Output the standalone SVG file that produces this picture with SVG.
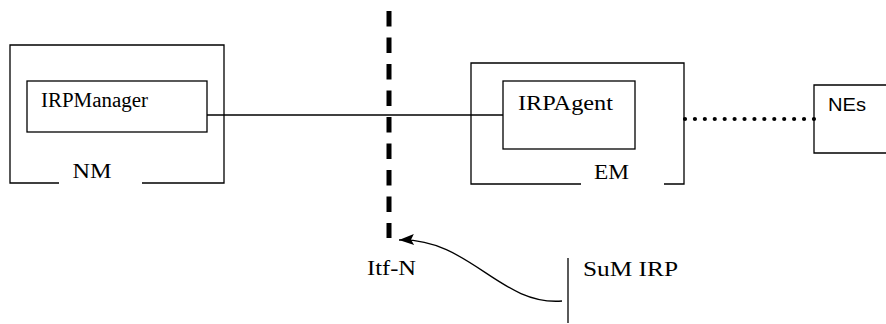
<svg xmlns="http://www.w3.org/2000/svg" width="886" height="324" viewBox="0 0 886 324">
<defs>
<style>
.ln{fill:none;stroke:#000;stroke-width:1.3}
.box{fill:#fff;stroke:#000;stroke-width:1.3}
.t{font-family:"Liberation Serif","Times New Roman",serif;font-size:20px;fill:#000}
.s{font-family:"Liberation Sans",Arial,sans-serif;font-size:19px;fill:#000}
</style>
<marker id="ah" markerUnits="userSpaceOnUse" markerWidth="18" markerHeight="12" refX="16" refY="6" orient="auto">
<path d="M16,6 L1,0.5 L4,6 L1,11.5 Z" fill="#000"/>
</marker>
</defs>
<rect width="886" height="324" fill="#fff"/>
<g id="connectors">
<line class="ln" x1="207" y1="115" x2="503" y2="115"/>
<line x1="685" y1="119" x2="814" y2="119" stroke="#000" stroke-width="4.2" stroke-linecap="round" stroke-dasharray="0 9.92"/>
<line x1="389" y1="11" x2="389" y2="238" stroke="#000" stroke-width="5" stroke-dasharray="15.5 11"/>
<path class="ln" d="M562,301 C500,306 470,238 399,240" marker-end="url(#ah)"/>
</g>
<g id="NM">
<path class="ln" d="M59,183 H10 V45 H224 V183 H142"/>
<text class="t" x="72.5" y="178" textLength="39" lengthAdjust="spacingAndGlyphs">NM</text>
</g>
<g id="IRPManager">
<rect class="box" x="27" y="81" width="180" height="51"/>
<text class="t" x="41" y="107" textLength="107" lengthAdjust="spacingAndGlyphs">IRPManager</text>
</g>
<g id="EM">
<path class="ln" d="M581,184 H471 V63 H684 V184 H664"/>
<text class="t" x="594" y="179" textLength="35" lengthAdjust="spacingAndGlyphs">EM</text>
</g>
<g id="IRPAgent">
<rect class="box" x="503" y="81" width="132" height="68"/>
<text class="t" x="518" y="110" textLength="95" lengthAdjust="spacingAndGlyphs">IRPAgent</text>
</g>
<g id="NEs">
<path class="ln" d="M886,85 H814 V153 H886"/>
<text class="s" x="828" y="111" textLength="38" lengthAdjust="spacingAndGlyphs">NEs</text>
</g>
<g id="ItfN">
<text class="t" x="367" y="275" textLength="49" lengthAdjust="spacingAndGlyphs">Itf-N</text>
</g>
<g id="SuMIRP">
<line class="ln" x1="568" y1="258" x2="568" y2="323"/>
<text class="t" x="583" y="276" textLength="95" lengthAdjust="spacingAndGlyphs">SuM IRP</text>
</g>
</svg>
